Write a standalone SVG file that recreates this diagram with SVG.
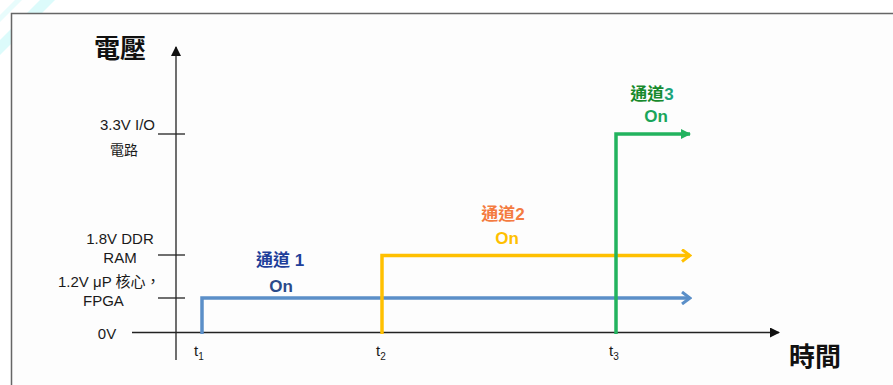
<svg xmlns="http://www.w3.org/2000/svg" width="893" height="385" viewBox="0 0 893 385">
<style>
.lbl{font-family:"Liberation Sans","Noto Sans CJK TC",sans-serif;font-size:15px;fill:#1a1a1a}
.cjk{font-family:"Noto Sans CJK TC",sans-serif;font-size:14px}
.big{font-family:"Noto Sans CJK TC",sans-serif;font-size:26px;font-weight:bold;fill:#111}
.ch{font-family:"Liberation Sans","Noto Sans CJK TC",sans-serif;font-size:17px;font-weight:bold}
.axis{stroke:#222;stroke-width:1.3;fill:none}
.tick{stroke:#222;stroke-width:1.3}
.sig{fill:none;stroke-width:3.5}
</style>
<defs>
<marker id="ah" viewBox="0 0 10 10" refX="9" refY="5" markerWidth="10" markerHeight="10" markerUnits="userSpaceOnUse" orient="auto"><path d="M0,0 L10,5 L0,10 z" fill="#111"/></marker>
<marker id="chevB" viewBox="0 0 12 14" refX="10" refY="7" markerWidth="12" markerHeight="14" markerUnits="userSpaceOnUse" orient="auto"><path d="M2,1 L10,7 L2,13" fill="none" stroke="#5b8fc8" stroke-width="3"/></marker>
<marker id="chevY" viewBox="0 0 12 14" refX="10" refY="7" markerWidth="12" markerHeight="14" markerUnits="userSpaceOnUse" orient="auto"><path d="M2,1 L10,7 L2,13" fill="none" stroke="#ffc000" stroke-width="3"/></marker>
<marker id="triG" viewBox="0 0 10 10" refX="9" refY="5" markerWidth="10" markerHeight="10" markerUnits="userSpaceOnUse" orient="auto"><path d="M0,0 L10,5 L0,10 z" fill="#22b35e"/></marker>
</defs>
<rect width="893" height="385" fill="#ffffff"/>
<polygon points="0,40 40,0 55,0 8,47 0,55" fill="#dcfbfb"/>
<polygon points="0,15 15,0 22,0 0,22" fill="#e8fcfc"/>
<rect x="11" y="13" width="890" height="380" fill="#fdfdfd"/>
<path d="M11.5,385 V13.5 H893" fill="none" stroke="#666" stroke-width="1.5"/>

<g id="axes">
<line class="axis" x1="176" y1="360" x2="176" y2="47" marker-end="url(#ah)"/>
<line class="axis" x1="132" y1="332.5" x2="779" y2="332.5" marker-end="url(#ah)"/>
<line class="tick" x1="158" y1="134" x2="185" y2="134"/>
<line class="tick" x1="158" y1="255" x2="185" y2="255"/>
<line class="tick" x1="158" y1="298" x2="185" y2="298"/>
<text class="big" x="120" y="58" text-anchor="middle">電壓</text>
<text class="big" x="815" y="366" text-anchor="middle">時間</text>
</g>

<g id="ylabels">
<text class="lbl" x="155" y="130" text-anchor="end">3.3V I/O</text>
<text class="lbl cjk" x="124" y="155" text-anchor="middle">電路</text>
<text class="lbl" x="120" y="244" text-anchor="middle">1.8V DDR</text>
<text class="lbl" x="120" y="263" text-anchor="middle">RAM</text>
<text class="lbl" x="58" y="287">1.2V μP 核心，</text>
<text class="lbl" x="83" y="306">FPGA</text>
<text class="lbl" x="107" y="339" text-anchor="middle">0V</text>
</g>

<g id="tlabels">
<text class="lbl" x="194" y="356">t<tspan font-size="10" dy="4">1</tspan></text>
<text class="lbl" x="376" y="356">t<tspan font-size="10" dy="4">2</tspan></text>
<text class="lbl" x="609" y="356">t<tspan font-size="10" dy="4">3</tspan></text>
</g>

<g id="connectors">
<path id="ch1" class="sig" d="M202,334 V298 H690" stroke="#5b8fc8" marker-end="url(#chevB)"/>
<path id="ch2" class="sig" d="M382,334 V255.5 H690" stroke="#ffc000" marker-end="url(#chevY)"/>
<path id="ch3" class="sig" d="M616,334 V134 H690" stroke="#22b35e" marker-end="url(#triG)"/>
</g>

<g id="label1">
<text class="ch" x="280" y="266" text-anchor="middle" fill="#1f3f9a">通道 1</text>
<text class="ch" x="281" y="292" text-anchor="middle" fill="#2b4a8a">On</text>
</g>
<g id="label2">
<text class="ch" x="503" y="220" text-anchor="middle" fill="#f47b40">通道2</text>
<text class="ch" x="507" y="244" text-anchor="middle" fill="#ffc000">On</text>
</g>
<g id="label3">
<text class="ch" x="652" y="100" text-anchor="middle" fill="#178a2c">通道<tspan fill="#1aa37a">3</tspan></text>
<text class="ch" x="656" y="122" text-anchor="middle" fill="#1aa55a">On</text>
</g>
</svg>
